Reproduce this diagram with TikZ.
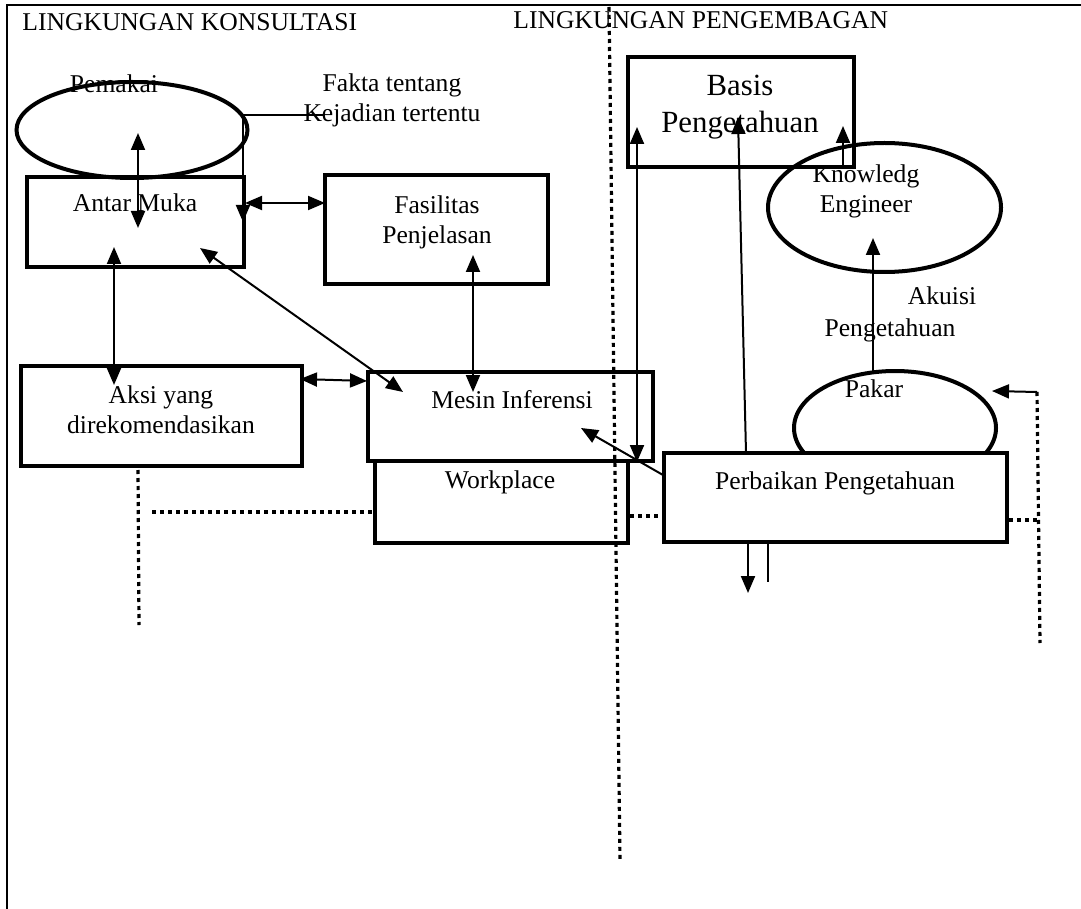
\documentclass[tikz,border=0pt]{standalone}
\usepackage{fontspec}
\setmainfont{Liberation Serif}
\usetikzlibrary{arrows.meta,positioning,shapes.geometric}
\tikzset{
  kotak/.style ={draw, line width=2pt, inner sep=0pt},
  elips/.style ={draw, ellipse, line width=2pt, inner sep=0pt},
  teks/.style  ={inner sep=0pt, anchor=base, align=center, font=\fontsize{12.8}{15}\selectfont},
  panah/.style ={-{Triangle[length=8.5pt,width=7pt]}, line width=1pt},
  dpanah/.style={{Triangle[length=8.5pt,width=7pt]}-{Triangle[length=8.5pt,width=7pt]}, line width=1pt},
  garis/.style ={line width=1pt},
  titik/.style ={line width=1.6pt, dash pattern=on 2pt off 2pt},
}

\begin{document}
\begin{tikzpicture}[x=0.5pt, y=-0.5pt]
  \useasboundingbox (0,0) rectangle (1081,909);
  \draw[line width=1.2pt] (7,909) -- (7,5) -- (1081,5);
  \node[teks, anchor=base west] (judulK) at (22,31) {LINGKUNGAN KONSULTASI};
  \node[teks, anchor=base west] (judulP) at (513,29) {LINGKUNGAN PENGEMBAGAN};

  \node[elips, minimum width=115.5pt, minimum height=48pt] (pemakai) at (132,130) {};
  \node[kotak, minimum width=108.5pt, minimum height=45pt] (antar) at (135.5,222) {};
  \node[kotak, minimum width=111.5pt, minimum height=54.5pt] (fasilitas) at (436.5,229.5) {};
  \node[kotak, minimum width=140.5pt, minimum height=50pt] (aksi) at (161.5,416) {};
  \node[kotak, minimum width=126.5pt, minimum height=41pt] (workplace) at (501.5,502) {};
  \node[kotak, minimum width=142.5pt, minimum height=44.5pt] (mesin) at (510.5,416.5) {};
  \node[kotak, minimum width=113pt, minimum height=55pt] (basis) at (741,112) {};
  \node[elips, minimum width=116.5pt, minimum height=64.5pt] (engineer) at (884.5,207.5) {};
  \node[elips, minimum width=101pt, minimum height=57pt] (pakar) at (895,428) {};
  \node[kotak, fill=white, minimum width=171.5pt, minimum height=44.5pt] (perbaikan) at (835.5,497.5) {};

  \node[teks] (pemakaiT) at (114,93) {Pemakai};
  \node[teks] (fakta) at (392,122) {Fakta tentang\\Kejadian tertentu};
  \node[teks] (antarT) at (135,212) {Antar Muka};
  \node[teks] (fasilitasT) at (437,243) {Fasilitas\\Penjelasan};
  \node[teks] (aksiT) at (161,433) {Aksi yang\\direkomendasikan};
  \node[teks] (mesinT) at (512,408) {Mesin Inferensi};
  \node[teks] (workplaceT) at (500,488) {Workplace};
  \node[teks, font=\fontsize{15.4}{18.5}\selectfont] (basisT) at (740,133) {Basis\\Pengetahuan};
  \node[teks] (engineerT) at (866,213) {Knowledg\\Engineer};
  \node[teks] (akuisiT) at (942,305) {Akuisi};
  \node[teks] (akuisiT2) at (890,336) {Pengetahuan};
  \node[teks] (pakarT) at (874,397) {Pakar};
  \node[teks] (perbaikanT) at (835,489) {Perbaikan Pengetahuan};

  \coordinate (pmA) at (138,133);  \coordinate (pmB) at (138,228);
  \coordinate (fk1) at (324,115);  \coordinate (fk2) at (243,115);  \coordinate (fk3) at (243,222);
  \coordinate (afA) at (245,203);  \coordinate (afB) at (325,203);
  \coordinate (fmA) at (473,255);  \coordinate (fmB) at (473,392);
  \coordinate (akA) at (114,247);  \coordinate (akB) at (114,385);
  \coordinate (dgA) at (200,248);  \coordinate (dgB) at (403,392);
  \coordinate (amA) at (300,379);  \coordinate (amB) at (367,381);
  \coordinate (bmA) at (637,127);  \coordinate (bmB) at (637,462);
  \coordinate (pbA) at (663,475);  \coordinate (pbB) at (581,428);
  \coordinate (pkA) at (746,453);  \coordinate (pkB) at (738,117);
  \coordinate (keA) at (843,167);  \coordinate (keB) at (843,126);
  \coordinate (pkrA) at (873,371); \coordinate (pkrB) at (873,238);
  \coordinate (kaA) at (1037,392); \coordinate (kaB) at (992,391);
  \coordinate (bwA) at (748,542);  \coordinate (bwB) at (748,593);
  \coordinate (bw2A) at (768,542); \coordinate (bw2B) at (768,582);

  \draw[dpanah] (pmA) -- (pmB);
  \draw[panah] (fk1) -- (fk2) -- (fk3);
  \draw[dpanah] (afA) -- (afB);
  \draw[dpanah] (fmA) -- (fmB);
  \draw[dpanah] (akA) -- (akB);
  \draw[dpanah] (dgA) -- (dgB);
  \draw[dpanah] (amA) -- (amB);
  \draw[dpanah] (bmA) -- (bmB);
  \draw[panah] (pbA) -- (pbB);
  \draw[panah] (pkA) -- (pkB);
  \draw[panah] (keA) -- (keB);
  \draw[panah] (pkrA) -- (pkrB);
  \draw[panah] (kaA) -- (kaB);
  \draw[panah] (bwA) -- (bwB);
  \draw[garis] (bw2A) -- (bw2B);

  \draw[titik] (609,7) -- (620,860);
  \draw[titik] (138,470) -- (139,625);
  \draw[titik] (152,512) -- (workplace.west |- 0,512);
  \draw[titik] (workplace.east |- 0,516) -- (perbaikan.west |- 0,516);
  \draw[titik] (perbaikan.east |- 0,520) -- (1037,520);
  \draw[titik] (kaA) -- (1040,643);
\end{tikzpicture}
\end{document}
